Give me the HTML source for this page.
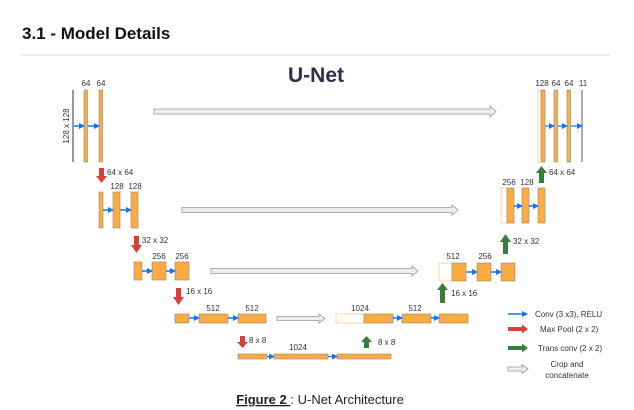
<!DOCTYPE html>
<html><head><meta charset="utf-8"><style>
html,body{margin:0;padding:0;background:#fff;width:634px;height:410px;overflow:hidden}
svg{display:block}
</style></head><body>
<svg width="634" height="410" viewBox="0 0 634 410" xmlns="http://www.w3.org/2000/svg" font-family="Liberation Sans, sans-serif">
<defs>
<marker id="bl" markerWidth="6" markerHeight="6" refX="5" refY="3" orient="auto" markerUnits="userSpaceOnUse"><path d="M0,0 L6,3 L0,6 z" fill="#1a73e8"/></marker>
</defs>
<text x="22" y="39" font-size="17" font-weight="bold" fill="#111">3.1 - Model Details</text>
<line x1="20" y1="55" x2="610" y2="55" stroke="#ddd" stroke-width="1"/>
<text x="316" y="82" font-size="21" font-weight="bold" fill="#2b3147" text-anchor="middle">U-Net</text>

<g font-size="8" fill="#333" text-anchor="middle">
<line x1="73" y1="90" x2="73" y2="162" stroke="#777" stroke-width="1.5"/>
<rect x="84" y="90" width="3.5" height="72" fill="#ffab40" stroke="#888" stroke-width=".6"/>
<rect x="99" y="90" width="3.5" height="72" fill="#ffab40" stroke="#888" stroke-width=".6"/>
<text x="86" y="86">64</text><text x="101" y="86">64</text>
<text transform="translate(69,126) rotate(-90)">128 x 128</text>
<line x1="74" y1="126" x2="84" y2="126" stroke="#1a73e8" stroke-width="1.5" marker-end="url(#bl)"/>
<line x1="88" y1="126" x2="99" y2="126" stroke="#1a73e8" stroke-width="1.5" marker-end="url(#bl)"/>

<rect x="99" y="192" width="4" height="36" fill="#ffab40" stroke="#888" stroke-width=".6"/>
<rect x="113" y="192" width="7" height="36" fill="#ffab40" stroke="#888" stroke-width=".6"/>
<rect x="131" y="192" width="7" height="36" fill="#ffab40" stroke="#888" stroke-width=".6"/>
<text x="117" y="189">128</text><text x="135" y="189">128</text>
<line x1="103" y1="210" x2="113" y2="210" stroke="#1a73e8" stroke-width="1.5" marker-end="url(#bl)"/>
<line x1="120" y1="210" x2="131" y2="210" stroke="#1a73e8" stroke-width="1.5" marker-end="url(#bl)"/>

<rect x="134" y="262" width="8" height="18" fill="#ffab40" stroke="#888" stroke-width=".6"/>
<rect x="152" y="262" width="14" height="18" fill="#ffab40" stroke="#888" stroke-width=".6"/>
<rect x="175" y="262" width="14" height="18" fill="#ffab40" stroke="#888" stroke-width=".6"/>
<text x="159" y="259">256</text><text x="182" y="259">256</text>
<line x1="142" y1="271" x2="152" y2="271" stroke="#1a73e8" stroke-width="1.5" marker-end="url(#bl)"/>
<line x1="166" y1="271" x2="175" y2="271" stroke="#1a73e8" stroke-width="1.5" marker-end="url(#bl)"/>

<rect x="175" y="314" width="14" height="9" fill="#ffab40" stroke="#888" stroke-width=".6"/>
<rect x="199" y="314" width="29" height="9" fill="#ffab40" stroke="#888" stroke-width=".6"/>
<rect x="238" y="314" width="28" height="9" fill="#ffab40" stroke="#888" stroke-width=".6"/>
<text x="213" y="311">512</text><text x="252" y="311">512</text>
<line x1="189" y1="318" x2="199" y2="318" stroke="#1a73e8" stroke-width="1.5" marker-end="url(#bl)"/>
<line x1="228" y1="318" x2="238" y2="318" stroke="#1a73e8" stroke-width="1.5" marker-end="url(#bl)"/>
<rect x="336" y="314" width="28" height="9" fill="#fff" stroke="#ffcc88" stroke-width=".8"/>
<rect x="364" y="314" width="29" height="9" fill="#ffab40" stroke="#888" stroke-width=".6"/>
<rect x="402" y="314" width="29" height="9" fill="#ffab40" stroke="#888" stroke-width=".6"/>
<rect x="439" y="314" width="29" height="9" fill="#ffab40" stroke="#888" stroke-width=".6"/>
<text x="360" y="311">1024</text><text x="415" y="311">512</text>
<line x1="393" y1="318" x2="402" y2="318" stroke="#1a73e8" stroke-width="1.5" marker-end="url(#bl)"/>
<line x1="431" y1="318" x2="439" y2="318" stroke="#1a73e8" stroke-width="1.5" marker-end="url(#bl)"/>

<rect x="238" y="354" width="29" height="5" fill="#ffab40" stroke="#888" stroke-width=".6"/>
<rect x="274" y="354" width="54" height="5" fill="#ffab40" stroke="#888" stroke-width=".6"/>
<rect x="337" y="354" width="54" height="5" fill="#ffab40" stroke="#888" stroke-width=".6"/>
<text x="298" y="350">1024</text>
<line x1="267" y1="356.5" x2="274" y2="356.5" stroke="#1a73e8" stroke-width="1.2" marker-end="url(#bl)"/>
<line x1="328" y1="356.5" x2="337" y2="356.5" stroke="#1a73e8" stroke-width="1.2" marker-end="url(#bl)"/>

<rect x="439" y="263" width="13" height="18" fill="#fff" stroke="#ffcc88" stroke-width=".8"/>
<rect x="452" y="263" width="14" height="18" fill="#ffab40" stroke="#888" stroke-width=".6"/>
<rect x="477" y="263" width="14" height="18" fill="#ffab40" stroke="#888" stroke-width=".6"/>
<rect x="501" y="263" width="14" height="18" fill="#ffab40" stroke="#888" stroke-width=".6"/>
<text x="453" y="259">512</text><text x="485" y="259">256</text>
<line x1="466" y1="272" x2="477" y2="272" stroke="#1a73e8" stroke-width="1.5" marker-end="url(#bl)"/>
<line x1="491" y1="272" x2="501" y2="272" stroke="#1a73e8" stroke-width="1.5" marker-end="url(#bl)"/>

<rect x="501" y="188" width="6" height="35" fill="#fff" stroke="#ffcc88" stroke-width=".8"/>
<rect x="507" y="188" width="7" height="35" fill="#ffab40" stroke="#888" stroke-width=".6"/>
<rect x="522" y="188" width="7" height="35" fill="#ffab40" stroke="#888" stroke-width=".6"/>
<rect x="538" y="188" width="7" height="35" fill="#ffab40" stroke="#888" stroke-width=".6"/>
<text x="509" y="185">256</text><text x="527" y="185">128</text>
<line x1="514" y1="206" x2="522" y2="206" stroke="#1a73e8" stroke-width="1.5" marker-end="url(#bl)"/>
<line x1="529" y1="206" x2="538" y2="206" stroke="#1a73e8" stroke-width="1.5" marker-end="url(#bl)"/>

<rect x="538" y="90" width="3" height="72" fill="#fff" stroke="#ffcc88" stroke-width=".8"/>
<rect x="541" y="90" width="4" height="72" fill="#ffab40" stroke="#888" stroke-width=".6"/>
<rect x="554" y="90" width="3.5" height="72" fill="#ffab40" stroke="#888" stroke-width=".6"/>
<rect x="567" y="90" width="3.5" height="72" fill="#ffab40" stroke="#888" stroke-width=".6"/>
<line x1="582" y1="90" x2="582" y2="162" stroke="#777" stroke-width="1.2"/>
<text x="542" y="86">128</text><text x="556" y="86">64</text><text x="569" y="86">64</text><text x="583" y="86">11</text>
<line x1="545" y1="126" x2="554" y2="126" stroke="#1a73e8" stroke-width="1.2" marker-end="url(#bl)"/>
<line x1="558" y1="126" x2="567" y2="126" stroke="#1a73e8" stroke-width="1.2" marker-end="url(#bl)"/>
<line x1="571" y1="126" x2="582" y2="126" stroke="#1a73e8" stroke-width="1.2" marker-end="url(#bl)"/>
</g>

<g fill="#eee" stroke="#999" stroke-width="0.8">
<path d="M154,109 H490 V106 L496,111.5 L490,117 V114 H154 Z"/>
<path d="M182,207.5 H452 V205 L458,210 L452,215 V212.5 H182 Z"/>
<path d="M211,268.5 H412 V266 L418,271 L412,276 V273.5 H211 Z"/>
<path d="M277,316.5 H319 V314 L325,318.5 L319,323 V320.5 H277 Z"/>
<path d="M508,367 H522 V364.5 L528,369 L522,373.5 V371 H508 Z"/>
</g>

<g>
<path d="M99,168 H104 V176 H107 L101.5,183 L96,176 H99 Z" fill="#d9403a"/>
<path d="M134,236 H139 V245 H142 L136.5,253 L131,245 H134 Z" fill="#d9403a"/>
<path d="M176,288 H181 V297 H184 L178.5,305 L173,297 H176 Z" fill="#d9403a"/>
<path d="M240,336 H245 V342 H248 L242.5,348 L237,342 H240 Z" fill="#d9403a"/>
<path d="M364,348 H369 V342 H372 L366.5,336 L361,342 H364 Z" fill="#3a7d3a"/>
<path d="M440,303 H445 V290 H448 L442.5,283 L437,290 H440 Z" fill="#3a7d3a"/>
<path d="M503,254 H508 V242 H511 L505.5,234 L500,242 H503 Z" fill="#3a7d3a"/>
<path d="M539,183 H544 V173 H547 L541.5,166 L536,173 H539 Z" fill="#3a7d3a"/>
<path d="M508,327 H522 V324.5 L528,329 L522,333.5 V331 H508 Z" fill="#d9403a"/>
<path d="M508,346 H522 V343.5 L528,348 L522,352.5 V350 H508 Z" fill="#3a7d3a"/>
<line x1="508" y1="314" x2="527" y2="314" stroke="#1a73e8" stroke-width="1.5" marker-end="url(#bl)"/>
</g>

<g font-size="8" fill="#333">
<text x="107" y="175">64 x 64</text>
<text x="142" y="243">32 x 32</text>
<text x="186" y="294">16 x 16</text>
<text x="249" y="343">8 x 8</text>
<text x="378" y="345">8 x 8</text>
<text x="451" y="296">16 x 16</text>
<text x="513" y="244">32 x 32</text>
<text x="549" y="175">64 x 64</text>
<text x="535" y="317">Conv (3 x3), RELU</text>
<text x="540" y="332">Max Pool (2 x 2)</text>
<text x="538" y="351">Trans conv (2 x 2)</text>
<text x="567" y="367" text-anchor="middle">Crop and</text>
<text x="567" y="378" text-anchor="middle">concatenate</text>
</g>

<text x="320" y="404" font-size="13" fill="#222" text-anchor="middle"><tspan font-weight="bold" text-decoration="underline">Figure 2 </tspan>: U-Net Architecture</text>
</svg>
</body></html>
